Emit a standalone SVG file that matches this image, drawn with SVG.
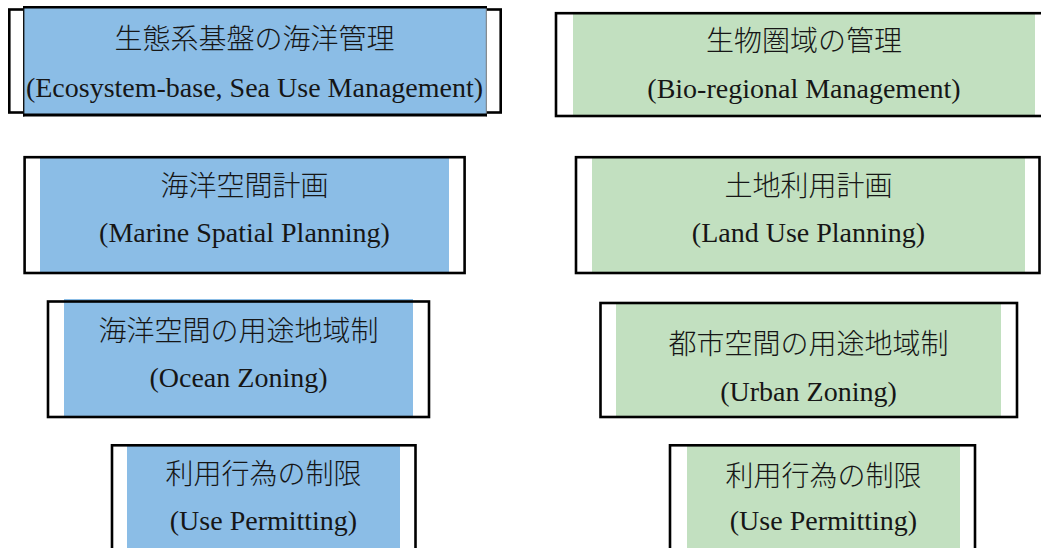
<svg xmlns="http://www.w3.org/2000/svg" width="1041" height="548" viewBox="0 0 1041 548">
  <style>
    .frame { fill: none; stroke: #000; stroke-width: 2.6; }
    .sea { fill: #8bbde6; }
    .land { fill: #c2e0c0; }
    .jp { font-family: "Noto Sans CJK JP", "Liberation Serif", serif; font-size: 28px; font-weight: 300; fill: #161616; text-anchor: middle; }
    .en { font-family: "Liberation Serif", "Times New Roman", serif; font-size: 28px; fill: #161616; text-anchor: middle; }
  </style>
  <rect width="1041" height="548" fill="#fff"/>

  <!-- left column: sea -->
  <g id="sea-management">
    <rect class="frame" x="9.3" y="9.5" width="491.4" height="103"/>
    <rect class="sea" x="23" y="6" width="463.5" height="110"/>
    <line x1="23.7" y1="6" x2="23.7" y2="116.5" stroke="#111" stroke-width="1.4"/>
    <line x1="486.3" y1="6" x2="486.3" y2="116.5" stroke="#777" stroke-width="1"/>
    <line x1="23" y1="7.2" x2="487" y2="7.2" stroke="#000" stroke-width="2.6"/>
    <line x1="23" y1="115" x2="487" y2="115" stroke="#000" stroke-width="2.8"/>
    <text class="jp" x="254.5" y="49">生態系基盤の海洋管理</text>
    <text class="en" x="254.5" y="97">(Ecosystem-base, Sea Use Management)</text>
  </g>

  <g id="marine-spatial-planning">
    <rect class="sea" x="40" y="157" width="409" height="116"/>
    <rect class="frame" x="24.6" y="157.2" width="440" height="115.8"/>
    <text class="jp" x="244.5" y="195.5">海洋空間計画</text>
    <text class="en" x="244.5" y="242">(Marine Spatial Planning)</text>
  </g>

  <g id="ocean-zoning">
    <rect class="sea" x="64" y="299" width="349" height="118"/>
    <rect class="frame" x="48" y="301.5" width="381" height="115.5"/>
    <text class="jp" x="238.5" y="340.5">海洋空間の用途地域制</text>
    <text class="en" x="238.5" y="387">(Ocean Zoning)</text>
  </g>

  <g id="sea-use-permitting">
    <rect class="sea" x="127" y="446" width="273" height="102"/>
    <rect class="frame" x="112" y="445.3" width="303.5" height="110"/>
    <text class="jp" x="263.5" y="484">利用行為の制限</text>
    <text class="en" x="263.5" y="530">(Use Permitting)</text>
  </g>

  <!-- right column: land -->
  <g id="bio-regional-management">
    <rect class="land" x="573" y="13" width="462" height="103"/>
    <rect class="frame" x="556" y="13.2" width="490" height="102.8"/>
    <text class="jp" x="804" y="51">生物圏域の管理</text>
    <text class="en" x="804" y="98">(Bio-regional Management)</text>
  </g>

  <g id="land-use-planning">
    <rect class="land" x="592" y="157" width="433" height="116"/>
    <rect class="frame" x="576" y="157.2" width="463.5" height="115.8"/>
    <text class="jp" x="808.5" y="195.5">土地利用計画</text>
    <text class="en" x="808.5" y="242">(Land Use Planning)</text>
  </g>

  <g id="urban-zoning">
    <rect class="land" x="616" y="303" width="385" height="114"/>
    <rect class="frame" x="600.5" y="303" width="416.5" height="114"/>
    <text class="jp" x="808.5" y="354">都市空間の用途地域制</text>
    <text class="en" x="808.5" y="401">(Urban Zoning)</text>
  </g>

  <g id="land-use-permitting">
    <rect class="land" x="687" y="446" width="273" height="102"/>
    <rect class="frame" x="670" y="445.3" width="305" height="110"/>
    <text class="jp" x="823.5" y="485.5">利用行為の制限</text>
    <text class="en" x="823.5" y="530">(Use Permitting)</text>
  </g>
</svg>
